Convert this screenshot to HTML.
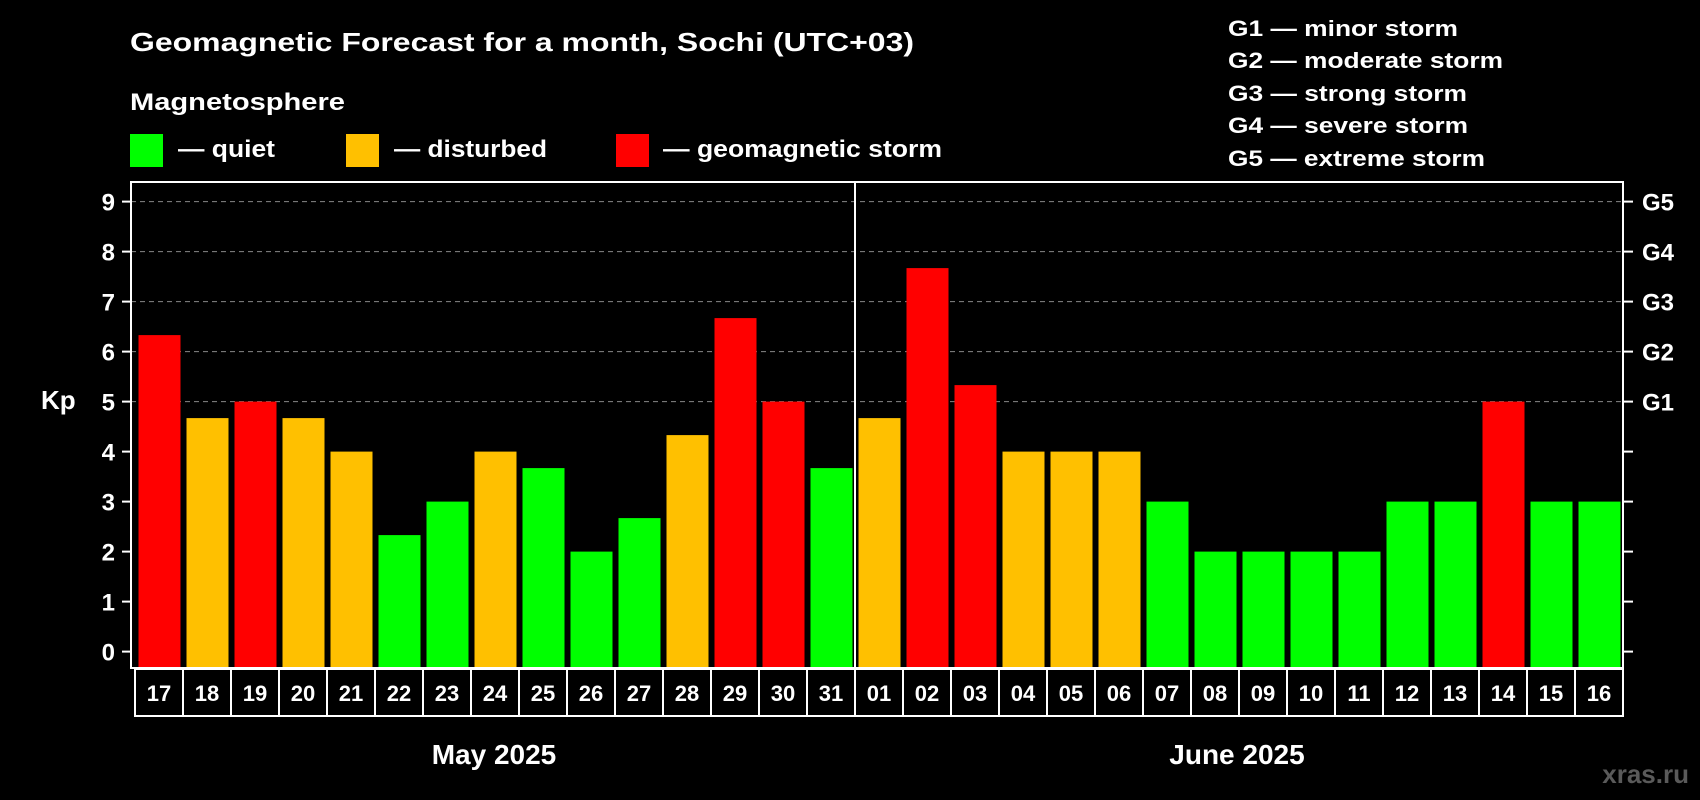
<!DOCTYPE html>
<html><head><meta charset="utf-8"><style>
html,body{margin:0;padding:0;background:#000;width:1700px;height:800px;overflow:hidden}
svg text{font-family:"Liberation Sans",Arial,sans-serif;font-weight:bold;fill:#fff}
</style></head><body>
<svg id="chart" width="1700" height="800" xmlns="http://www.w3.org/2000/svg">
<rect width="1700" height="800" fill="#000"/>
<text x="130" y="51" font-size="26" textLength="784" lengthAdjust="spacingAndGlyphs">Geomagnetic Forecast for a month, Sochi (UTC+03)</text>
<text x="130" y="110" font-size="24" textLength="215" lengthAdjust="spacingAndGlyphs">Magnetosphere</text>
<rect x="130" y="134" width="33" height="33" fill="#00ff00"/>
<text x="178" y="157" font-size="24" textLength="97" lengthAdjust="spacingAndGlyphs">— quiet</text>
<rect x="346" y="134" width="33" height="33" fill="#ffc000"/>
<text x="394" y="157" font-size="24" textLength="153" lengthAdjust="spacingAndGlyphs">— disturbed</text>
<rect x="616" y="134" width="33" height="33" fill="#ff0000"/>
<text x="663" y="157" font-size="24" textLength="279" lengthAdjust="spacingAndGlyphs">— geomagnetic storm</text>
<g font-size="22">
<text x="1228" y="36" textLength="230" lengthAdjust="spacingAndGlyphs">G1 — minor storm</text>
<text x="1228" y="68" textLength="275" lengthAdjust="spacingAndGlyphs">G2 — moderate storm</text>
<text x="1228" y="101" textLength="239" lengthAdjust="spacingAndGlyphs">G3 — strong storm</text>
<text x="1228" y="133" textLength="240" lengthAdjust="spacingAndGlyphs">G4 — severe storm</text>
<text x="1228" y="166" textLength="257" lengthAdjust="spacingAndGlyphs">G5 — extreme storm</text>
</g>
<text x="41" y="409" font-size="26">Kp</text>
<text x="494" y="764" font-size="28" text-anchor="middle">May 2025</text>
<text x="1237" y="764" font-size="28" text-anchor="middle">June 2025</text>
<text x="1689" y="783" font-size="26" text-anchor="end" style="fill:#5a5a5a">xras.ru</text>
<g id="plot"></g>
</svg>
<script>
const days = ["17","18","19","20","21","22","23","24","25","26","27","28","29","30","31","01","02","03","04","05","06","07","08","09","10","11","12","13","14","15","16"];
const kpValues = [6.33,4.67,5,4.67,4,2.33,3,4,3.67,2,2.67,4.33,6.67,5,3.67,4.67,7.67,5.33,4,4,4,3,2,2,2,2,3,3,5,3,3];
const yTicks = [0,1,2,3,4,5,6,7,8,9];
const gTicks = [5,6,7,8,9];
const gLabels = ["G1","G2","G3","G4","G5"];

const NS = "http://www.w3.org/2000/svg";
const g = document.getElementById('plot');
const L = 131, R = 1623, T = 182, B = 668;
const y0 = 651.6, unit = 50.0;
const yS = v => y0 - v * unit;
const cellX = i => 135 + i * 48;
function mk(tag, a){const e=document.createElementNS(NS,tag);for(const k in a)e.setAttribute(k,a[k]);g.appendChild(e);return e;}
function color(v){return v>=5?"#ff0000":(v>=4?"#ffc000":"#00ff00");}

gTicks.forEach(v=>{
  const e=mk('line',{x1:L,x2:R,y1:yS(v),y2:yS(v),stroke:"#888","stroke-width":1,"stroke-dasharray":"5,4"});
  
  
});
kpValues.forEach((v,i)=>{
  const top=yS(v);
  const e=mk('rect',{x:cellX(i)+3.5,y:top,width:42,height:B-top,fill:color(v)});
  
  
});
yTicks.forEach(v=>{
  const t=mk('line',{x1:122,x2:L,y1:yS(v),y2:yS(v),stroke:"#fff","stroke-width":2});
  
  
  const l=mk('text',{x:115,y:yS(v)+9,"font-size":24,"text-anchor":"end"});
  l.textContent=v;
  
  
  const r=mk('line',{x1:R,x2:1633,y1:yS(v),y2:yS(v),stroke:"#fff","stroke-width":2});
  
  
});
gTicks.forEach((v,i)=>{
  const l=mk('text',{x:1642,y:yS(v)+9,"font-size":24});
  l.textContent=gLabels[i];
  
  
});
const frame=mk('rect',{x:L,y:T,width:R-L,height:B-T,fill:"none",stroke:"#fff","stroke-width":2});


const div=mk('line',{x1:cellX(15),x2:cellX(15),y1:T,y2:B,stroke:"#fff","stroke-width":2});


days.forEach((d,i)=>{
  const c=mk('rect',{x:cellX(i),y:669,width:48,height:47,fill:"none",stroke:"#fff","stroke-width":2});
  
  
  const t=mk('text',{x:cellX(i)+24,y:701,"font-size":22,"text-anchor":"middle"});
  t.textContent=d;
  
  
});
</script>
</body></html>
